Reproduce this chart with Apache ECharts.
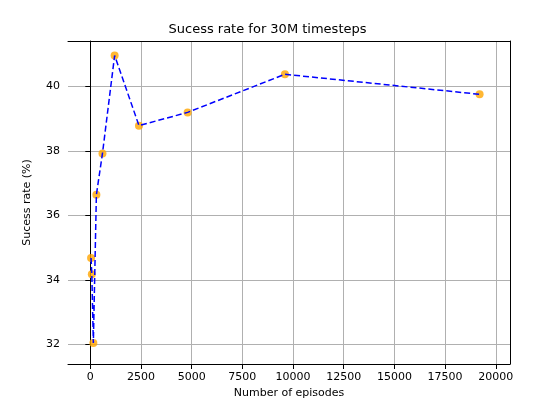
<!DOCTYPE html><html><head><meta charset="utf-8"><script src="https://cdn.jsdelivr.net/npm/echarts@6/dist/echarts.min.js"></script></head><body style="margin:0;background:#fff"><div id="c" style="width:535px;height:415px"></div><script>
const episodes=[37,75,150,300,600,1200,2400,4800,9600,19200];
const rates=[34.68,34.18,32.05,36.64,37.92,40.95,38.78,39.19,40.37,39.75];
const xTicks=[0,2500,5000,7500,10000,12500,15000,17500,20000];
const yTicks=[32,34,36,38,40];
const data=episodes.map((e,i)=>[e,rates[i]]);
const ch=echarts.init(document.getElementById('c'));
const f='DejaVu Sans';
const ln={color:'#000'};
ch.setOption({animation:false,
title:{text:'Sucess rate for 30M timesteps',left:'center',top:18,textStyle:{fontFamily:f,fontSize:13,fontWeight:'normal',color:'#000'}},
grid:{left:68,right:25,top:41,bottom:51},
xAxis:[{type:'value',min:-1100,max:20700,name:'Number of episodes',nameLocation:'middle',nameGap:24,nameTextStyle:{fontFamily:f,fontSize:11,color:'#000'},
axisLine:{show:true,onZero:false,lineStyle:ln},axisTick:{show:true,customValues:xTicks,lineStyle:ln},
axisLabel:{fontFamily:f,fontSize:11,color:'#000',customValues:xTicks,formatter:v=>String(v)},
splitLine:{show:true,lineStyle:{color:'#b0b0b0'}}},
{type:'value',position:'top',min:-1100,max:20700,axisLine:{show:true,onZero:false,lineStyle:ln},axisTick:{show:false},axisLabel:{show:false},splitLine:{show:false}}],
yAxis:[{type:'value',min:31.4,max:41.4,name:'Sucess rate (%)',nameLocation:'middle',nameGap:35,nameTextStyle:{fontFamily:f,fontSize:11,color:'#000'},
axisLine:{show:true,lineStyle:ln},axisTick:{show:true,customValues:yTicks,lineStyle:ln},
axisLabel:{fontFamily:f,fontSize:11,color:'#000',customValues:yTicks},splitLine:{show:true,lineStyle:{color:'#b0b0b0'}}},
{type:'value',position:'right',min:31.4,max:41.4,axisLine:{show:true,onZero:false,lineStyle:ln},axisTick:{show:false},axisLabel:{show:false},splitLine:{show:false}}],
series:[{type:'line',data:data,symbol:'none',lineStyle:{color:'#0000ff',type:[6,3],width:1.5},z:3},
{type:'scatter',data:data,symbolSize:8,itemStyle:{color:'#ffa500'},z:2}]
});
</script></body></html>
